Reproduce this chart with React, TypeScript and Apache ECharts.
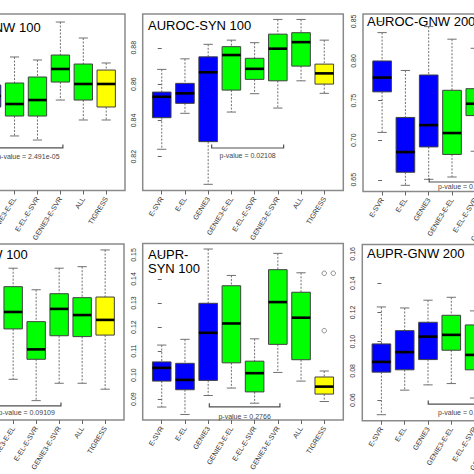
import React, { useEffect, useRef } from "react";
import * as echarts from "echarts";

const CATEGORIES = ["E-SVR", "E-EL", "GENIE3", "GENIE3-E-EL", "E-EL-E-SVR", "GENIE3-E-SVR", "ALL", "TIGRESS"];
const METHOD_KIND = ["single", "single", "single", "combo", "combo", "combo", "combo", "tigress"];

// each box: [lower whisker, Q1, median, Q3, upper whisker]
const AUROC_GNW_100 = [
  [0.765, 0.79, 0.81, 0.83, 0.855],
  [0.75, 0.775, 0.795, 0.815, 0.845],
  [0.762, 0.7946, 0.8071, 0.8195, 0.848],
  [0.7618, 0.7844, 0.798, 0.8218, 0.8513],
  [0.7572, 0.7844, 0.8025, 0.8286, 0.8479],
  [0.8025, 0.8229, 0.8377, 0.8535, 0.8909],
  [0.7799, 0.8025, 0.8207, 0.8433, 0.8728],
  [0.7799, 0.7946, 0.8207, 0.8365, 0.8445],
];
const AUROC_SYN_100 = [
  [0.8241, 0.8415, 0.853, 0.8556, 0.8681],
  [0.8439, 0.8494, 0.8549, 0.8604, 0.8739],
  [0.8048, 0.8283, 0.8665, 0.875, 0.8819],
  [0.8446, 0.8567, 0.876, 0.8806, 0.8842],
  [0.8547, 0.8626, 0.8684, 0.8742, 0.8828],
  [0.8468, 0.8618, 0.8795, 0.8875, 0.8956],
  [0.8618, 0.8699, 0.8831, 0.8883, 0.8956],
  [0.8549, 0.86, 0.8659, 0.871, 0.8842],
];
const AUROC_GNW_200 = [
  [0.7098, 0.761, 0.779, 0.8, 0.8358],
  [0.643, 0.6595, 0.685, 0.7287, 0.788],
  [0.6506, 0.6915, 0.719, 0.7823, 0.8434],
  [0.6535, 0.682, 0.709, 0.763, 0.8275],
  [0.686, 0.731, 0.746, 0.765, 0.816],
  [0.66, 0.69, 0.72, 0.76, 0.82],
  [0.67, 0.7, 0.73, 0.765, 0.82],
  [0.68, 0.71, 0.735, 0.75, 0.78],
];
const AUPR_GNW_100 = [
  [0.09, 0.11, 0.12, 0.13, 0.145],
  [0.092, 0.108, 0.118, 0.128, 0.14],
  [0.095, 0.115, 0.125, 0.135, 0.15],
  [0.0985, 0.1214, 0.1291, 0.1406, 0.149],
  [0.0888, 0.1076, 0.1121, 0.1247, 0.1392],
  [0.0967, 0.1183, 0.1305, 0.1374, 0.149],
  [0.0967, 0.1179, 0.1277, 0.1356, 0.1497],
  [0.094, 0.1186, 0.1255, 0.1359, 0.1573],
];
const AUPR_SYN_100 = [
  [0.0867, 0.0975, 0.103, 0.1055, 0.1125],
  [0.0836, 0.0939, 0.098, 0.1049, 0.1149],
  [0.0915, 0.0978, 0.1176, 0.1299, 0.1525],
  [0.0946, 0.1051, 0.1215, 0.1372, 0.1415],
  [0.0883, 0.093, 0.1008, 0.1058, 0.1151],
  [0.1011, 0.1128, 0.1304, 0.1439, 0.1507],
  [0.0975, 0.1064, 0.1239, 0.1345, 0.1426],
  [0.089, 0.0921, 0.0952, 0.0992, 0.1017],
];
const AUPR_GNW_200 = [
  [0.05, 0.0791, 0.0861, 0.0984, 0.1237],
  [0.0668, 0.0807, 0.0928, 0.1075, 0.123],
  [0.0704, 0.0877, 0.1034, 0.1132, 0.1283],
  [0.0713, 0.0941, 0.1046, 0.118, 0.1303],
  [0.0614, 0.0807, 0.0909, 0.1114, 0.121],
  [0.065, 0.085, 0.1, 0.115, 0.13],
  [0.07, 0.088, 0.1, 0.112, 0.128],
  [0.06, 0.075, 0.085, 0.095, 0.11],
];
// outliers: [category index, value]
const AUPR_SYN_100_OUTLIERS = [[7, 0.1424], [7, 0.1424], [7, 0.1185]];

const TICKS_AUROC_GNW_100 = [0.75, 0.8, 0.85];
const TICKS_AUROC_SYN_100 = [0.82, 0.84, 0.86, 0.88];
const TICKS_AUROC_GNW_200 = [0.65, 0.7, 0.75, 0.8, 0.85];
const TICKS_AUPR_GNW_100 = [0.1, 0.12, 0.14];
const TICKS_AUPR_SYN_100 = [0.09, 0.1, 0.11, 0.12, 0.13, 0.14, 0.15];
const TICKS_AUPR_GNW_200 = [0.06, 0.08, 0.1, 0.12, 0.14, 0.16];

const TITLES = ["AUROC-GNW 100", "AUROC-SYN 100", "AUROC-GNW 200", "AUPR-GNW 100", "AUPR-\nSYN 100", "AUPR-GNW 200"];
const P_VALUES = ["2.491e-05", "0.02108", "0.03125", "0.09109", "0.2766", "0.1942"];
// bracket: [from category, to category, value]
const BRACKETS = [
  [2.1, 5.11, 0.7482],
  [2.15, 5.25, 0.8248],
  [2.02, 5.2, 0.6472],
  [2.1, 5.08, 0.0864],
  [2.05, 5.09, 0.0868],
  [2.01, 5.1, 0.0573],
];

const FONT = "'Liberation Sans', Arial, sans-serif";
const FILL: Record<string, string> = { single: "#0000ff", combo: "#00ff00", tigress: "#ffff00" };

// The reference is a crop of a wider figure: the chart canvas is wider than the
// 474px window and shifted left by OFFSET so that the outer panels are cut off.
const OFFSET = 100;
const CANVAS_W = 474 + 2 * OFFSET;

const PANELS = [
  { data: AUROC_GNW_100, ticks: TICKS_AUROC_GNW_100, min: 0.7, max: 0.9, grid: { left: -73, top: 14, width: 198, height: 176.5 }, title: [-67.7, 27], tOff: 9 },
  { data: AUROC_SYN_100, ticks: TICKS_AUROC_SYN_100, min: 0.8014, max: 0.8986, grid: { left: 142.7, top: 14, width: 200.6, height: 176.5 }, title: [148, 25], tOff: 7.7 },
  { data: AUROC_GNW_200, ticks: TICKS_AUROC_GNW_200, min: 0.6352, max: 0.8593, grid: { left: 363, top: 14, width: 201.3, height: 177.5 }, title: [367, 21.5], tOff: 5 },
  { data: AUPR_GNW_100, ticks: TICKS_AUPR_GNW_100, min: 0.08, max: 0.16, grid: { left: -74.7, top: 244, width: 198.7, height: 176 }, title: [-69.7, 254], tOff: 6.3 },
  { data: AUPR_SYN_100, ticks: TICKS_AUPR_SYN_100, min: 0.0813, max: 0.1548, grid: { left: 142.7, top: 243.5, width: 200.6, height: 176.5 }, title: [148, 261], tOff: 9.3 },
  { data: AUPR_GNW_200, ticks: TICKS_AUPR_GNW_200, min: 0.0459, max: 0.1664, grid: { left: 362.3, top: 244.5, width: 201.3, height: 176.5 }, title: [367, 253.5], tOff: 8.4 },
];

const CAT_IDX = CATEGORIES.map((_, i) => i);

function renderBox(params: any, api: any) {
  const i = api.value(0);
  const lo = api.coord([i, api.value(1)]);
  const q1 = api.coord([i, api.value(2)]);
  const md = api.coord([i, api.value(3)]);
  const q3 = api.coord([i, api.value(4)]);
  const hi = api.coord([i, api.value(5)]);
  const unit = api.size([1, 0])[0];
  const half = unit * 0.4;
  const cap = unit * 0.2;
  const x = md[0];
  const whisk = { stroke: "#707070", lineWidth: 1, lineDash: [2, 1.5] };
  const capS = { stroke: "#707070", lineWidth: 1 };
  return {
    type: "group",
    children: [
      { type: "line", shape: { x1: x, y1: hi[1], x2: x, y2: q3[1] }, style: whisk },
      { type: "line", shape: { x1: x, y1: q1[1], x2: x, y2: lo[1] }, style: whisk },
      { type: "line", shape: { x1: x - cap, y1: hi[1], x2: x + cap, y2: hi[1] }, style: capS },
      { type: "line", shape: { x1: x - cap, y1: lo[1], x2: x + cap, y2: lo[1] }, style: capS },
      {
        type: "rect",
        shape: { x: x - half, y: q3[1], width: half * 2, height: q1[1] - q3[1] },
        style: { fill: FILL[METHOD_KIND[i]], stroke: "#404040", lineWidth: 1 },
      },
      { type: "line", shape: { x1: x - half, y1: md[1], x2: x + half, y2: md[1] }, style: { stroke: "#000", lineWidth: 2.6 } },
    ],
  };
}

function makeBracket(text: string, tOff: number) {
  return (params: any, api: any) => {
    const a = api.coord([api.value(0), api.value(2)]);
    const b = api.coord([api.value(1), api.value(2)]);
    return {
      type: "group",
      children: [
        {
          type: "polyline",
          shape: { points: [[a[0], a[1] - 3.5], [a[0], a[1]], [b[0], b[1]], [b[0], b[1] - 3.5]] },
          style: { stroke: "#505050", lineWidth: 1.2, fill: "none" },
        },
        {
          type: "text",
          style: {
            text: "p-value = " + text,
            x: (a[0] + b[0]) / 2,
            y: a[1] + tOff,
            align: "center",
            verticalAlign: "middle",
            fontSize: 7,
            fontFamily: FONT,
            fill: "#444",
          },
        },
      ],
    };
  };
}

export default function App() {
  const ref = useRef<HTMLDivElement>(null);
  useEffect(() => {
    if (!ref.current) return;
    const chart = echarts.init(ref.current, null, { renderer: "svg" });
    const grid: any[] = [];
    const xAxis: any[] = [];
    const yAxis: any[] = [];
    const series: any[] = [];
    const graphic: any[] = [];
    PANELS.forEach((p, k) => {
      grid.push({
        left: p.grid.left + OFFSET,
        top: p.grid.top,
        width: p.grid.width,
        height: p.grid.height,
        show: true,
        borderColor: "#8a8a8a",
        borderWidth: 1.5,
        backgroundColor: "transparent",
      });
      xAxis.push({
        type: "value",
        gridIndex: k,
        min: -0.82,
        max: 7.82,
        axisLine: { show: false },
        splitLine: { show: false },
        axisTick: { show: true, customValues: CAT_IDX, length: 4, lineStyle: { color: "#666", width: 1 } },
        axisLabel: {
          customValues: CAT_IDX,
          formatter: (v: number) => CATEGORIES[Math.round(v)],
          rotate: 58,
          margin: 7,
          fontSize: 7,
          color: "#333",
          fontFamily: FONT,
        },
      });
      yAxis.push({
        type: "value",
        gridIndex: k,
        min: p.min,
        max: p.max,
        axisLine: { show: false },
        splitLine: { show: false },
        axisTick: { show: true, customValues: p.ticks, length: 4, lineStyle: { color: "#666", width: 1 } },
        axisLabel: {
          customValues: p.ticks,
          formatter: (v: number) => v.toFixed(2),
          rotate: 90,
          margin: 6,
          fontSize: 7,
          color: "#333",
          fontFamily: FONT,
        },
      });
      series.push({
        type: "custom",
        xAxisIndex: k,
        yAxisIndex: k,
        renderItem: renderBox,
        encode: { x: 0, y: [1, 2, 3, 4, 5] },
        data: p.data.map((b, i) => [i, ...b]),
        clip: false,
      });
      series.push({
        type: "custom",
        xAxisIndex: k,
        yAxisIndex: k,
        renderItem: makeBracket(P_VALUES[k], p.tOff),
        encode: { x: [0, 1], y: 2 },
        data: [BRACKETS[k]],
        clip: false,
      });
      graphic.push({
        type: "text",
        x: p.title[0] + OFFSET,
        y: p.title[1],
        style: {
          text: TITLES[k],
          fontSize: 13,
          fontFamily: FONT,
          fill: "#000",
          align: "left",
          verticalAlign: "middle",
          lineHeight: 14,
        },
      });
    });
    series.push({
      type: "scatter",
      xAxisIndex: 4,
      yAxisIndex: 4,
      symbol: "circle",
      symbolSize: 4.5,
      itemStyle: { color: "transparent", borderColor: "#707070", borderWidth: 1 },
      data: AUPR_SYN_100_OUTLIERS.map((d, j) => (j === 1 ? { value: d, symbolOffset: [9, 0] } : { value: d })),
    });
    chart.setOption({
      animation: false,
      backgroundColor: "#fff",
      grid,
      xAxis,
      yAxis,
      series,
      graphic,
    });
    return () => chart.dispose();
  }, []);
  return (
    <div style={{ position: "fixed", left: 0, top: 0, width: 474, height: 474, overflow: "hidden", background: "#fff" }}>
      <div ref={ref} style={{ position: "absolute", left: -OFFSET, top: 0, width: CANVAS_W, height: 474 }} />
    </div>
  );
}
